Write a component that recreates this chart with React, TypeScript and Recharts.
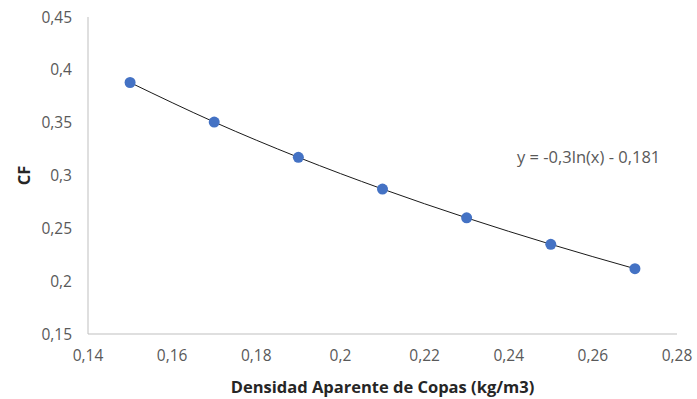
import { LineChart, Line, XAxis, YAxis, Label } from "recharts";

// Densidad aparente de copas vs CF
const densidad = [0.15, 0.17, 0.19, 0.21, 0.23, 0.25, 0.27];
const cf = [0.388, 0.3506, 0.3172, 0.2872, 0.2599, 0.2349, 0.2118];

const xTicks = [0.14, 0.16, 0.18, 0.2, 0.22, 0.24, 0.26, 0.28];
const yTicks = [0.15, 0.2, 0.25, 0.3, 0.35, 0.4, 0.45];

const ecuacion = "y = -0,3ln(x) - 0,181";

const data = densidad.map((x, i) => ({ x, cf: cf[i] }));

const FONT = "'Open Sans', 'Liberation Sans', sans-serif";
const fmt = (v: number) => String(v).replace(".", ",");

export default function App() {
  return (
    <div
      style={{
        position: "absolute",
        left: 0,
        top: 0,
        width: 697,
        height: 399,
        background: "#fff",
        fontFamily: FONT,
      }}
    >
      <LineChart
        width={697}
        height={399}
        data={data}
        margin={{ top: 17, right: 20, bottom: 0, left: 0 }}
      >
        <XAxis
          type="number"
          dataKey="x"
          domain={[0.14, 0.28]}
          ticks={xTicks}
          tickFormatter={fmt}
          tickLine={false}
          tickSize={0}
          tickMargin={16}
          height={65}
          stroke="#bfbfbf"
          tick={{ fill: "#595959", fontSize: 15.5, fontFamily: FONT }}
        >
          <Label
            value="Densidad Aparente de Copas (kg/m3)"
            position="insideBottom"
            offset={6}
            style={{ fill: "#262626", fontSize: 16.5, fontWeight: 700, fontFamily: FONT }}
          />
        </XAxis>
        <YAxis
          type="number"
          domain={[0.15, 0.45]}
          ticks={yTicks}
          tickFormatter={fmt}
          tickLine={false}
          tickSize={0}
          tickMargin={16}
          width={88}
          stroke="#bfbfbf"
          tick={{ fill: "#595959", fontSize: 15.5, fontFamily: FONT }}
        >
          <Label
            content={({ viewBox }: any) => {
              const cy = viewBox.y + viewBox.height / 2;
              return (
                <text
                  x={23}
                  y={cy}
                  transform={`rotate(-90, 23, ${cy})`}
                  textAnchor="middle"
                  dominantBaseline="central"
                  fill="#262626"
                  fontSize={16.5}
                  fontWeight={700}
                  fontFamily={FONT}
                >
                  CF
                </text>
              );
            }}
          />
        </YAxis>
        <Line
          type="monotone"
          dataKey="cf"
          stroke="#1a1a1a"
          strokeWidth={1}
          dot={{ r: 5.5, fill: "#4472C4", stroke: "#4472C4", strokeWidth: 0 }}
          isAnimationActive={false}
        />
      </LineChart>
      <div
        style={{
          position: "absolute",
          left: 517,
          top: 146,
          fontSize: 16.5,
          color: "#595959",
          whiteSpace: "nowrap",
          lineHeight: "22px",
        }}
      >
        {ecuacion}
      </div>
    </div>
  );
}
